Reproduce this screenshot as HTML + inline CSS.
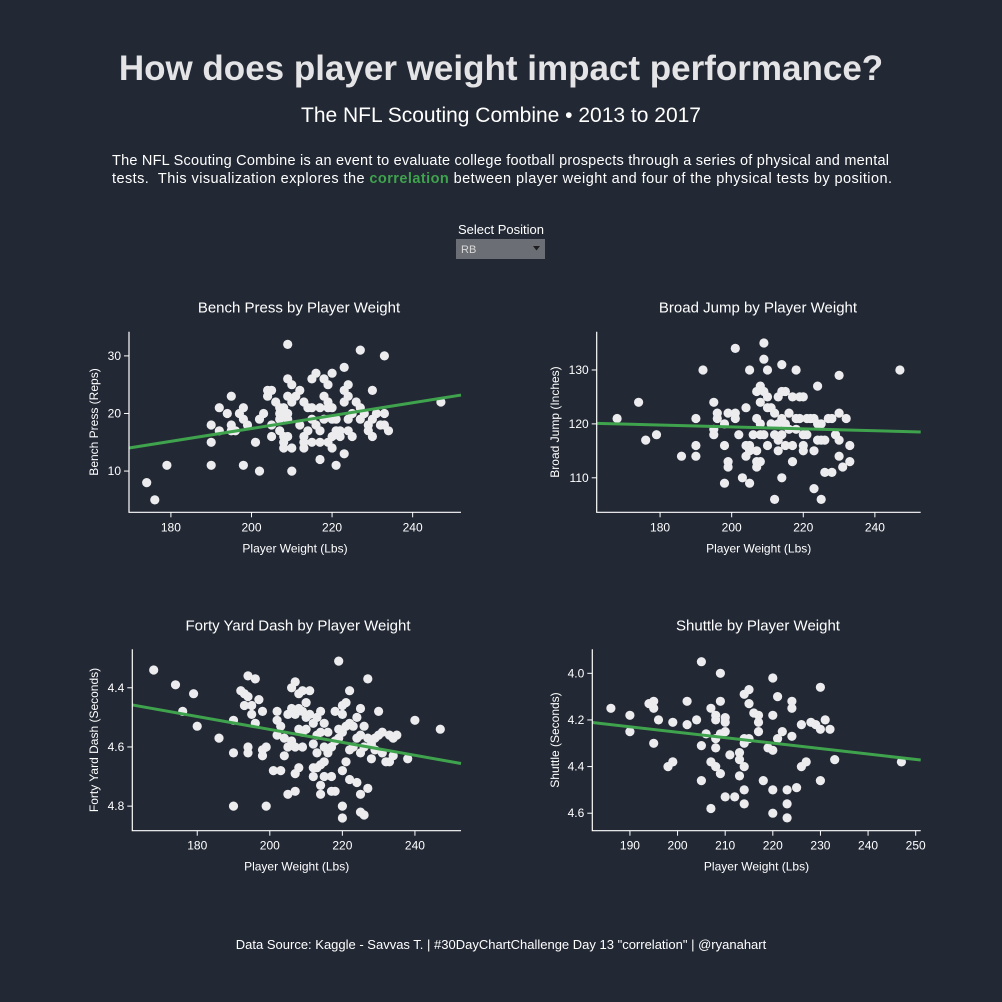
<!DOCTYPE html>
<html><head><meta charset="utf-8"><style>
html,body{margin:0;padding:0;background:#222834;}
svg{display:block;font-family:"Liberation Sans",Arial,sans-serif;}
</style></head><body>
<svg id="root" width="1002" height="1002" viewBox="0 0 1002 1002">
<rect x="0" y="0" width="1002" height="1002" fill="#222834"/>
<text x="501" y="80" text-anchor="middle" font-size="35" font-weight="bold" fill="#e4e4e6">How does player weight impact performance?</text>
<text x="501" y="122" text-anchor="middle" font-size="21" fill="#ffffff">The NFL Scouting Combine • 2013 to 2017</text>
<text x="112" y="165" font-size="14.5" fill="#ffffff" textLength="777" lengthAdjust="spacing">The NFL Scouting Combine is an event to evaluate college football prospects through a series of physical and mental</text>
<text x="112" y="183" font-size="14.5" fill="#ffffff" textLength="780" lengthAdjust="spacing" xml:space="preserve">tests.  This visualization explores the <tspan fill="#3fa34d" font-weight="bold">correlation</tspan> between player weight and four of the physical tests by position.</text>
<text x="501" y="234" text-anchor="middle" font-size="13" fill="#ffffff">Select Position</text>
<g>
<rect x="456" y="239" width="89" height="20" fill="#6b6e74"/>
<text x="461" y="253" font-size="11" fill="#d8d8d8">RB</text>
<path d="M533,246 L540,246 L536.5,250.5 Z" fill="#1e1e1e"/>
</g>
<text x="501" y="949" text-anchor="middle" font-size="13" fill="#ffffff">Data Source: Kaggle - Savvas T. | #30DayChartChallenge Day 13 "correlation" | @ryanahart</text>
</svg>
<script>
// ---- Bench press ----
const benchWeight=[174,176,179,190,190,190,192,192,194,195,195,195,196,197,198,198,198,199,201,202,202,203,204,204,205,205,205,206,207,207,207,207,208,208,208,208,208,209,209,209,209,209,209,210,210,210,210,211,212,212,213,213,213,213,214,214,215,215,215,215,216,216,217,217,217,217,218,218,218,219,219,219,219,220,220,220,220,220,221,221,221,222,222,223,223,223,223,224,224,224,224,225,225,226,227,227,227,228,229,229,230,230,230,231,232,233,233,233,234,247];
const benchReps=[8,5,11,18,15,11,21,17,20,23,18,17,17,20,21,19,11,18,15,19,10,20,23,24,24,18,16,22,21,20,19,17,21,20,16,15,14,32,26,23,20,19,16,25,22,14,10,23,24,18,22,16,15,14,21,17,26,21,19,15,27,18,21,17,15,12,26,23,19,25,22,21,15,27,21,19,16,14,19,17,11,17,16,28,24,22,13,25,23,19,17,20,16,22,31,21,19,20,18,17,24,19,16,20,18,30,20,18,17,22];
const benchTrend=[169.6,14.0,252,23.2];
// ---- Broad jump ----
const broadWeight=[168,174,176,179,186,190,190,190,192,195,195,195,196,196,198,198,198,199,199,199,201,201,201,202,203,204,204,204,205,205,205,205,206,207,207,207,207,207,208,208,208,208,208,209,209,209,209,210,210,210,210,211,211,212,212,212,213,213,213,213,214,214,214,214,214,215,215,215,216,216,217,217,217,218,218,218,219,219,220,220,220,220,221,221,222,223,223,223,224,224,224,225,225,225,226,226,227,228,228,229,230,230,230,230,231,232,233,233,247];
const broadInches=[121,124,117,118,114,121,116,114,130,124,118,119,122,121,120,116,109,122,113,112,134,122,121,118,110,123,116,114,130,116,115,109,118,126,121,115,113,112,127,124,120,118,113,135,132,126,118,130,125,123,116,123,120,122,118,106,125,120,117,115,131,126,121,118,110,126,120,116,122,119,125,116,113,130,121,119,125,121,125,118,116,115,121,118,121,121,115,108,127,120,117,120,117,106,117,111,121,121,111,118,129,122,117,114,112,121,116,113,130];
const broadTrend=[162.3,120.1,252.8,118.5];
// ---- Forty yard dash ----
const fortyWeight=[168,174,176,179,180,186,190,190,190,192,193,193,194,194,194,194,195,195,196,196,197,198,198,198,199,199,201,202,202,202,203,203,204,204,205,205,205,206,206,206,207,207,207,207,207,208,208,208,208,209,209,209,209,210,210,210,211,211,212,212,212,212,213,213,213,213,214,214,214,214,214,215,215,215,215,216,216,217,217,217,218,218,218,219,219,219,220,220,220,220,220,220,221,221,221,222,222,222,222,223,223,224,224,224,225,225,225,225,225,226,226,226,227,227,227,228,228,229,229,230,230,231,231,232,233,233,234,234,235,238,240,247];
const fortySeconds=[4.34,4.39,4.48,4.42,4.53,4.57,4.51,4.62,4.80,4.41,4.42,4.46,4.36,4.43,4.60,4.62,4.46,4.49,4.37,4.52,4.44,4.48,4.61,4.63,4.60,4.80,4.68,4.48,4.51,4.56,4.53,4.68,4.57,4.63,4.49,4.60,4.76,4.40,4.47,4.58,4.38,4.49,4.60,4.69,4.75,4.42,4.47,4.54,4.67,4.41,4.48,4.55,4.60,4.45,4.50,4.54,4.41,4.49,4.52,4.59,4.67,4.70,4.50,4.56,4.62,4.67,4.48,4.55,4.66,4.73,4.76,4.52,4.60,4.65,4.70,4.55,4.62,4.60,4.70,4.75,4.48,4.58,4.75,4.31,4.54,4.57,4.49,4.46,4.55,4.68,4.80,4.84,4.45,4.53,4.65,4.41,4.52,4.61,4.71,4.53,4.60,4.50,4.57,4.72,4.47,4.56,4.62,4.76,4.82,4.53,4.60,4.83,4.37,4.57,4.74,4.59,4.64,4.57,4.61,4.48,4.56,4.55,4.62,4.65,4.56,4.65,4.57,4.63,4.56,4.64,4.51,4.54];
const fortyTrend=[162.1,4.458,252.7,4.656];
// ---- Shuttle ----
const shuttleWeight=[186,190,190,194,195,195,195,196,198,199,199,202,202,204,205,205,205,206,207,207,207,208,208,208,208,208,209,209,209,209,210,210,210,210,211,212,213,213,213,214,214,214,214,214,214,215,215,215,216,217,217,217,218,219,220,220,220,220,220,221,221,222,223,223,223,224,224,224,225,226,226,227,228,229,230,230,230,231,232,233,247];
const shuttleSeconds=[4.15,4.18,4.25,4.13,4.12,4.15,4.30,4.20,4.40,4.21,4.38,4.12,4.22,4.20,3.95,4.31,4.46,4.26,4.15,4.38,4.58,4.18,4.20,4.28,4.32,4.40,4.00,4.12,4.26,4.43,4.19,4.21,4.25,4.53,4.35,4.53,4.34,4.37,4.44,4.09,4.28,4.30,4.40,4.50,4.56,4.07,4.13,4.28,4.17,4.18,4.21,4.25,4.46,4.32,4.02,4.18,4.33,4.50,4.60,4.10,4.28,4.25,4.50,4.56,4.62,4.12,4.15,4.27,4.49,4.22,4.40,4.38,4.21,4.22,4.06,4.24,4.46,4.20,4.24,4.37,4.38];
const shuttleTrend=[182.1,4.211,251.05,4.372];
// tick labels
const xTicks1=[180,200,220,240];
const yTicksBench=[10,20,30];
const yTicksBroad=[110,120,130];
const yTicksForty=[4.4,4.6,4.8];
const yTicksShuttle=[4.0,4.2,4.4,4.6];
const xTicksShuttle=[190,200,210,220,230,240,250];

const NS='http://www.w3.org/2000/svg';
const root=document.getElementById('root');
function mk(tag,attrs,parent){const e=document.createElementNS(NS,tag);for(const k in attrs)e.setAttribute(k,attrs[k]);parent.appendChild(e);return e;}

function chart(cfg){
  const g=mk('g',{},root);
  
  
  const L=cfg.box[0],T=cfg.box[1],R=cfg.box[2],B=cfg.box[3];
  const sx=v=>L+(v-cfg.xd[0])/(cfg.xd[1]-cfg.xd[0])*(R-L);
  const sy=v=>cfg.inv? T+(v-cfg.yd[0])/(cfg.yd[1]-cfg.yd[0])*(B-T) : B-(v-cfg.yd[0])/(cfg.yd[1]-cfg.yd[0])*(B-T);
  const t=mk('text',{x:cfg.titleX,y:T-19,'text-anchor':'middle','font-size':15,fill:'#ffffff'},g);
  t.textContent=cfg.title;
  
  
  const pg=mk('g',{},g);
  
  
  cfg.xs.forEach((xv,i)=>{
    const c=mk('circle',{cx:sx(xv).toFixed(1),cy:sy(cfg.ys[i]).toFixed(1),r:4.6,fill:'#ececee'},pg);
    
    
  });
  const tr=cfg.trend;
  const ln=mk('line',{x1:sx(tr[0]),y1:sy(tr[1]),x2:sx(tr[2]),y2:sy(tr[3]),stroke:'#3fa34d','stroke-width':3},g);
  
  
  const ax=mk('path',{d:`M${L},${T}V${B}H${R}`,fill:'none',stroke:'#ffffff','stroke-width':1.2},g);
  
  
  cfg.xt.forEach(v=>{
    const x=sx(v);
    mk('line',{x1:x,y1:B,x2:x,y2:B+5,stroke:'#fff'},g);
    const tx=mk('text',{x:x,y:B+19,'text-anchor':'middle','font-size':12,fill:'#ffffff'},g);
    tx.textContent=v;
    
    
  });
  cfg.yt.forEach(v=>{
    const y=sy(v);
    mk('line',{x1:L-5,y1:y,x2:L,y2:y,stroke:'#fff'},g);
    const tx=mk('text',{x:L-8,y:y+4,'text-anchor':'end','font-size':12,fill:'#ffffff'},g);
    tx.textContent=cfg.dec?v.toFixed(1):v;
    
    
  });
  const xl=mk('text',{x:(L+R)/2,y:B+40,'text-anchor':'middle','font-size':12,fill:'#ffffff'},g);
  xl.textContent='Player Weight (Lbs)';
  
  
  const yx=cfg.ylx, yy=(T+B)/2;
  const yl=mk('text',{x:yx,y:yy,'text-anchor':'middle','font-size':12,fill:'#ffffff',transform:`rotate(-90 ${yx} ${yy})`},g);
  yl.textContent=cfg.ytitle;
  
  
}
chart({name:'bench-press-chart',title:'Bench Press by Player Weight',titleX:299,box:[129,331.7,461,512.3],xd:[169.6,252],yd:[2.84,34.2],inv:false,xs:benchWeight,ys:benchReps,trend:benchTrend,xt:xTicks1,yt:yTicksBench,ytitle:'Bench Press (Reps)',ylx:98,dec:false});
chart({name:'broad-jump-chart',title:'Broad Jump by Player Weight',titleX:758,box:[596.7,331.7,920.7,512.3],xd:[162.3,252.8],yd:[103.6,137.1],inv:false,xs:broadWeight,ys:broadInches,trend:broadTrend,xt:xTicks1,yt:yTicksBroad,ytitle:'Broad Jump (Inches)',ylx:559,dec:false});
chart({name:'forty-yard-dash-chart',title:'Forty Yard Dash by Player Weight',titleX:298,box:[132.3,649.3,461,830.7],xd:[162.1,252.7],yd:[4.27,4.883],inv:true,xs:fortyWeight,ys:fortySeconds,trend:fortyTrend,xt:xTicks1,yt:yTicksForty,ytitle:'Forty Yard Dash (Seconds)',ylx:98,dec:true});
chart({name:'shuttle-chart',title:'Shuttle by Player Weight',titleX:758,box:[592.3,649.3,920.7,830.7],xd:[182.1,251.05],yd:[3.897,4.675],inv:true,xs:shuttleWeight,ys:shuttleSeconds,trend:shuttleTrend,xt:xTicksShuttle,yt:yTicksShuttle,ytitle:'Shuttle (Seconds)',ylx:559,dec:true});
</script>
</body></html>
